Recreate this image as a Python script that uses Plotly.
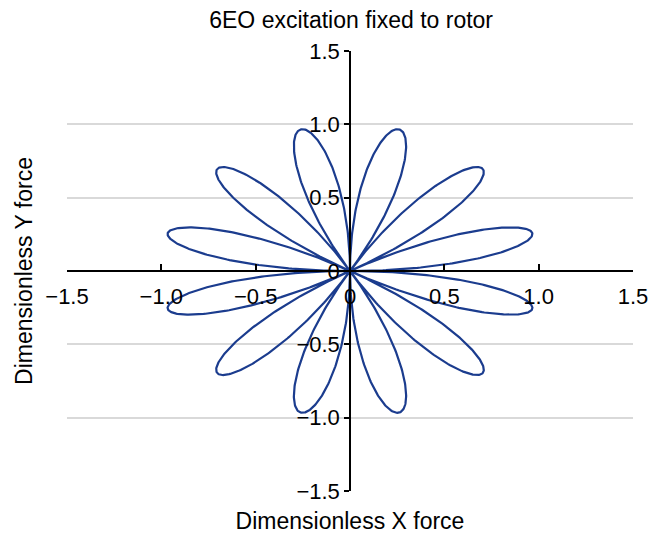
import numpy as np
import plotly.graph_objects as go

# ---- data ----
chart_title = "6EO excitation fixed to rotor"
x_title = "Dimensionless X force"
y_title = "Dimensionless Y force"

# twelve petals of the force locus: direction of each petal tip (deg) and its length
petal_tip_angles_deg = [15, 45, 75, 105, 135, 165, 195, 225, 255, 285, 315, 345]
petal_tip_radii = [1.0, 0.99, 1.0, 1.0, 0.99, 1.0, 1.0, 0.99, 1.0, 1.0, 0.99, 1.0]
petal_half_span_deg = 15   # each petal leaves/returns to the origin 15 deg either side of its tip

tick_values = [-1.5, -1.0, -0.5, 0, 0.5, 1.0, 1.5]
tick_labels = ["\u22121.5", "\u22121.0", "\u22120.5", "0", "0.5", "1.0", "1.5"]

# ---- build the closed locus (rose petals) ----
xs, ys = [], []
for ang, rad in zip(petal_tip_angles_deg, petal_tip_radii):
    phi = np.radians(np.linspace(-petal_half_span_deg, petal_half_span_deg, 181))
    r = rad * np.cos(phi * 90.0 / petal_half_span_deg)
    th = np.radians(ang) + phi
    xs.extend((r * np.cos(th)).tolist())
    ys.extend((r * np.sin(th)).tolist())

FONT = "Liberation Sans, Arial, sans-serif"
LINE_COLOR = "#1b3c8e"

# the page body has an 8px margin; the figure is offset by it
W, H = 657, 526

fig = go.Figure()
fig.add_trace(go.Scatter(x=xs, y=ys, mode="lines",
                         line=dict(color=LINE_COLOR, width=2.2),
                         hoverinfo="skip", showlegend=False))

fig.update_layout(
    width=W, height=H,
    margin=dict(l=58.5, r=31.5, t=42.5, b=42.5, autoexpand=False),
    paper_bgcolor="white", plot_bgcolor="white",
    font=dict(family=FONT, color="black", size=22),
    title=dict(text=chart_title, x=0.502, xref="paper", xanchor="center",
               y=1 - 11.5 / H, yref="container", yanchor="middle",
               font=dict(family=FONT, size=23, color="black")),
    showlegend=False,
    xaxis=dict(range=[-1.5, 1.5], showgrid=False, zeroline=False,
               showline=False, showticklabels=False, ticks="",
               title=dict(text=x_title, standoff=27, font=dict(size=23)),
               automargin=False, fixedrange=True),
    yaxis=dict(range=[-1.5, 1.5], showgrid=True, gridcolor="#d9d9d9",
               gridwidth=1.5, tickmode="array", tickvals=tick_values,
               zeroline=False, showline=False, showticklabels=False, ticks="",
               title=dict(text=y_title, standoff=26, font=dict(size=23)),
               automargin=False, fixedrange=True),
    xaxis2=dict(range=[-1.5, 1.5], overlaying="x", anchor="free", position=0.5,
                side="bottom", showline=True, linecolor="black", linewidth=1.5,
                ticks="inside", ticklen=6, tickwidth=1.5, tickcolor="black",
                ticklabelstandoff=6,
                tickmode="array", tickvals=tick_values, ticktext=tick_labels,
                tickfont=dict(family=FONT, size=22, color="black"),
                showgrid=False, zeroline=False, automargin=False, fixedrange=True),
    yaxis2=dict(range=[-1.5, 1.5], overlaying="y", anchor="free", position=0.5,
                side="left", showline=True, linecolor="black", linewidth=1.5,
                ticks="outside", ticklen=5, tickwidth=1.5, tickcolor="black",
                tickmode="array", tickvals=tick_values, ticktext=tick_labels,
                tickfont=dict(family=FONT, size=22, color="black"),
                showgrid=False, zeroline=False, automargin=False, fixedrange=True),
)

# invisible helper trace so the overlay axes are drawn
fig.add_trace(go.Scatter(x=[0], y=[0], xaxis="x2", yaxis="y2", mode="markers",
                         marker=dict(opacity=0), hoverinfo="skip", showlegend=False))

fig.write_html("out.html")
